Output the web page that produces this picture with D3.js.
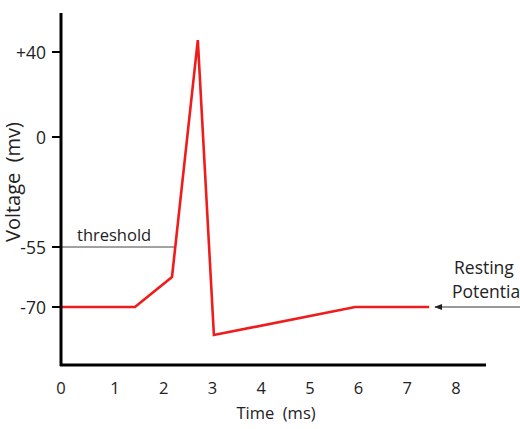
<!DOCTYPE html>
<html>
<head>
<meta charset="utf-8">
<script src="https://cdn.jsdelivr.net/npm/d3@7"></script>
<style>
  body { margin: 0; background: #fff; }
  text { font-family: "Open Sans", "Noto Sans", sans-serif; fill: #222; white-space: pre; }
</style>
</head>
<body>
<svg id="svg"></svg>
<script>
// Chart data
const timeMs = [0, 1.41, 2.17, 2.70, 3.03, 5.93, 7.45];
const voltageMv = [-70, -70, -62.5, 45.6, -77, -70, -70];
const yTicks = [40, 0, -55, -70];
const yTickLabels = ["+40", "0", "-55", "-70"];
const xTicks = [0, 1, 2, 3, 4, 5, 6, 7, 8];
const thresholdMv = -55;

const width = 520, height = 429;
const svg = d3.select("#svg").attr("width", width).attr("height", height);

// schematic axes: the voltage axis is not linear in the source drawing
const x = d3.scaleLinear().domain([0, 1, 8]).range([61, 115, 456]);
const y = d3.scaleLinear().domain([-70, -55, 0, 40]).range([307, 247, 137, 52]);

// threshold guide
svg.append("line")
    .attr("x1", x(0)).attr("x2", 176)
    .attr("y1", y(thresholdMv)).attr("y2", y(thresholdMv))
    .attr("stroke", "#444").attr("stroke-width", 1);

svg.append("text")
    .attr("x", 77).attr("y", 241)
    .attr("font-size", 16.5)
    .text("threshold");

// action potential trace
const line = d3.line()
    .x((d, i) => x(timeMs[i]))
    .y((d, i) => y(voltageMv[i]));

svg.append("path")
    .datum(timeMs)
    .attr("d", line)
    .attr("fill", "none")
    .attr("stroke", "#f01c1c")
    .attr("stroke-width", 2.6)
    .attr("stroke-linejoin", "miter");

// y axis
svg.append("line")
    .attr("x1", 61).attr("x2", 61)
    .attr("y1", 13).attr("y2", 366)
    .attr("stroke", "#000").attr("stroke-width", 3);

yTicks.forEach((v, i) => {
    svg.append("line")
        .attr("x1", 52).attr("x2", 61)
        .attr("y1", y(v)).attr("y2", y(v))
        .attr("stroke", "#000").attr("stroke-width", 2);
    svg.append("text")
        .attr("x", 46).attr("y", y(v))
        .attr("text-anchor", "end")
        .attr("dominant-baseline", "central")
        .attr("font-size", 17.5)
        .text(yTickLabels[i]);
});

// x axis
svg.append("line")
    .attr("x1", 60).attr("x2", 486)
    .attr("y1", 365).attr("y2", 365)
    .attr("stroke", "#000").attr("stroke-width", 3);

xTicks.forEach(t => {
    svg.append("text")
        .attr("x", x(t)).attr("y", 387)
        .attr("text-anchor", "middle")
        .attr("dominant-baseline", "central")
        .attr("font-size", 16.5)
        .text(t);
});

// axis titles
svg.append("text")
    .attr("x", 276).attr("y", 412)
    .attr("text-anchor", "middle")
    .attr("dominant-baseline", "central")
    .attr("font-size", 16.5)
    .text("Time  (ms)");

svg.append("text")
    .attr("transform", "translate(12,182) rotate(-90)")
    .attr("text-anchor", "middle")
    .attr("dominant-baseline", "central")
    .attr("font-size", 20)
    .text("Voltage  (mv)");

// resting potential annotation
svg.append("defs").append("marker")
    .attr("id", "arrow")
    .attr("viewBox", "0 0 10 10")
    .attr("refX", 9).attr("refY", 5)
    .attr("markerWidth", 8).attr("markerHeight", 8)
    .attr("markerUnits", "userSpaceOnUse")
    .attr("orient", "auto")
    .append("path")
    .attr("d", "M0,1 L10,5 L0,9 Z")
    .attr("fill", "#222");

svg.append("line")
    .attr("x1", 522).attr("x2", 435)
    .attr("y1", y(-70)).attr("y2", y(-70))
    .attr("stroke", "#333").attr("stroke-width", 1)
    .attr("marker-end", "url(#arrow)");

svg.append("text")
    .attr("x", 454).attr("y", 267)
    .attr("dominant-baseline", "central")
    .attr("font-size", 17.5)
    .text("Resting");

svg.append("text")
    .attr("x", 452).attr("y", 291)
    .attr("dominant-baseline", "central")
    .attr("font-size", 17.5)
    .text("Potential");
</script>
</body>
</html>
